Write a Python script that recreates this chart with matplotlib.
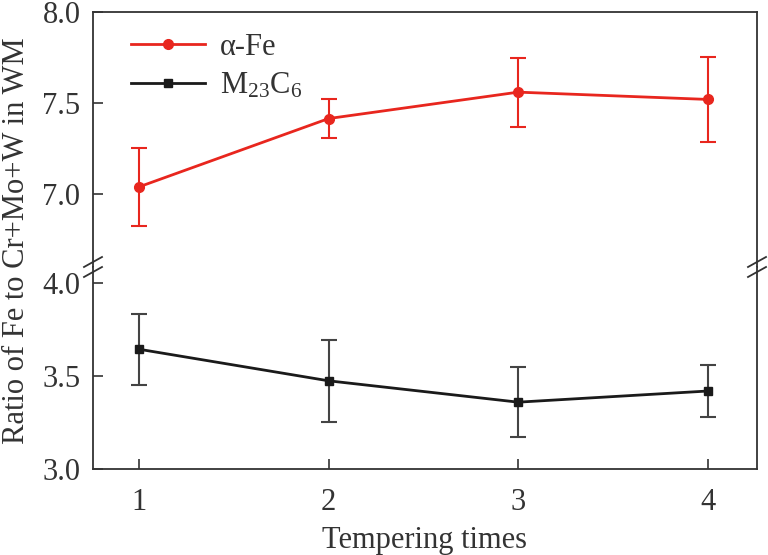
import numpy as np
import matplotlib.pyplot as plt
from matplotlib.lines import Line2D

plt.rcParams['font.family'] = ['Liberation Serif', 'DejaVu Serif']
plt.rcParams['mathtext.fontset'] = 'custom'
plt.rcParams['mathtext.rm'] = 'Liberation Serif'

times = [1, 2, 3, 4]
fe_ratio = [7.04, 7.415, 7.56, 7.52]
fe_err = [0.215, 0.105, 0.19, 0.235]
carb_ratio = [3.645, 3.475, 3.36, 3.42]
carb_err = [0.19, 0.22, 0.19, 0.14]

red = '#e8261e'
dark = '#1a1a1a'
grey = '#333333'

fig = plt.figure(figsize=(7.68, 5.55), dpi=100)
left, right = 93/768, 757/768
top, mid, bot = 1-12/555, 1-267/555, 1-469/555
ax1 = fig.add_axes([left, mid, right-left, top-mid])
ax2 = fig.add_axes([left, bot, right-left, mid-bot])

ax1.errorbar(times, fe_ratio, yerr=fe_err, color=red, lw=2, marker='o', ms=7,
             capsize=6, elinewidth=1.5, capthick=1.5)
ax2.errorbar(times, carb_ratio, yerr=carb_err, color=dark, lw=2, marker='s', ms=6,
             capsize=6, elinewidth=1.5, capthick=1.5, ecolor='#444444')

ax1.set_ylim(6.60, 8.0)
ax2.set_ylim(3.0, 4.088)
for ax in (ax1, ax2):
    ax.set_xlim(0.757, 4.26)
    ax.tick_params(direction='in', length=7, width=1.2, labelsize=22, colors=grey,
                   labelcolor=grey, right=False, top=False, pad=9)
    for s in ax.spines.values():
        s.set_linewidth(1.3)
        s.set_color(grey)
ax1.spines['bottom'].set_visible(False)
ax2.spines['top'].set_visible(False)
ax1.set_xticks([])
ax1.set_yticks([7.0, 7.5, 8.0])
ax1.set_yticklabels(['7.0', '7.5', '8.0'])
ax2.set_yticks([3.0, 3.5, 4.0])
ax2.set_yticklabels(['3.0', '3.5', '4.0'])
ax2.set_xticks(times)
ax2.tick_params(axis='x', pad=14)
ax2.set_xlabel('Tempering times', fontsize=22, color=grey, labelpad=6)
fig.text(0.022, (top+bot)/2, 'Ratio of Fe to Cr+Mo+W in WM', rotation=90,
         fontsize=22, color=grey, ha='center', va='center')

handles = [Line2D([], [], color=red, lw=2, marker='o', ms=7),
           Line2D([], [], color=dark, lw=2, marker='s', ms=6)]
labels = ['α-Fe', r'$\mathregular{M_{23}C_6}$']
leg = ax1.legend(handles, labels, loc='upper left', frameon=False, fontsize=22,
                 handlelength=2.4, bbox_to_anchor=(0.03, 0.99), labelspacing=0.3,
                 borderaxespad=0.2, handletextpad=0.5)
for t in leg.get_texts():
    t.set_color(grey)

# break marks
for xf in (left, right):
    for dy in (-5, 5):
        yc = mid + dy/555
        fig.add_artist(Line2D([xf - 9/768, xf + 9/768], [yc - 5/555, yc + 5/555],
                              color=grey, lw=1.3))

fig.savefig('out.png', dpi=100)
